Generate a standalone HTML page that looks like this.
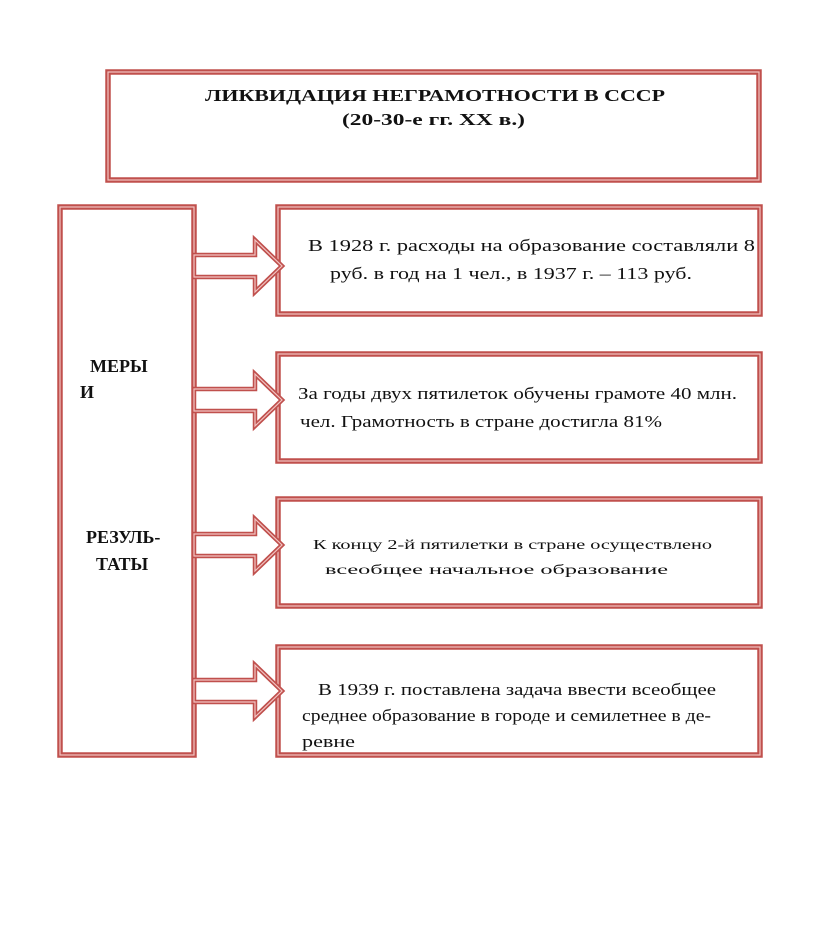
<!DOCTYPE html>
<html><head><meta charset="utf-8"><style>
body{margin:0;background:#fff;width:816px;height:927px;overflow:hidden}
svg{position:absolute;left:0;top:0}
text{font-family:"Liberation Serif",serif;fill:#111}
</style></head><body>
<svg width="816" height="927" viewBox="0 0 816 927">
<defs>
<g id="arr">
<path d="M0,-11 H61 V-26 L88,0 L61,26 V11 H0 Z" fill="#fff" stroke="#c0504d" stroke-width="4.5" stroke-linejoin="miter"/>
<path d="M0,-11 H61 V-26 L88,0 L61,26 V11 H0 Z" fill="none" stroke="#f2c4c2" stroke-width="1.2"/>
</g>
</defs>
<g fill="#fff" stroke="#c0504d" stroke-width="5.5">
<rect x="108" y="72" width="651" height="108"/>
<rect x="60" y="207" width="134" height="548"/>
<rect x="278" y="207" width="482" height="107"/>
<rect x="278" y="354" width="482" height="107"/>
<rect x="278" y="499" width="482" height="107"/>
<rect x="278" y="647" width="482" height="108"/>
</g>
<g fill="none" stroke="#f2c4c2" stroke-width="1.2">
<rect x="108" y="72" width="651" height="108"/>
<rect x="60" y="207" width="134" height="548"/>
<rect x="278" y="207" width="482" height="107"/>
<rect x="278" y="354" width="482" height="107"/>
<rect x="278" y="499" width="482" height="107"/>
<rect x="278" y="647" width="482" height="108"/>
</g>
<use href="#arr" x="194" y="266"/>
<use href="#arr" x="194" y="400"/>
<use href="#arr" x="194" y="545"/>
<use href="#arr" x="194" y="691"/>
<text x="205" y="101" font-size="17" font-weight="bold" textLength="460" lengthAdjust="spacingAndGlyphs">ЛИКВИДАЦИЯ НЕГРАМОТНОСТИ В СССР</text>
<text x="342" y="125" font-size="17" font-weight="bold" textLength="183" lengthAdjust="spacingAndGlyphs">(20-30-е гг. XX в.)</text>
<text x="90" y="372" font-size="18" font-weight="bold">МЕРЫ</text>
<text x="80" y="398" font-size="18" font-weight="bold">И</text>
<text x="86" y="543" font-size="18" font-weight="bold">РЕЗУЛЬ-</text>
<text x="96" y="570" font-size="18" font-weight="bold">ТАТЫ</text>
<g font-size="17" lengthAdjust="spacingAndGlyphs">
<text x="308" y="251" textLength="447" lengthAdjust="spacingAndGlyphs">В 1928 г. расходы на образование составляли 8</text>
<text x="330" y="279" textLength="362" lengthAdjust="spacingAndGlyphs">руб. в год на 1 чел., в 1937 г. – 113 руб.</text>
<text x="298" y="399" textLength="439" lengthAdjust="spacingAndGlyphs">За годы двух пятилеток обучены грамоте 40 млн.</text>
<text x="300" y="427" textLength="362" lengthAdjust="spacingAndGlyphs">чел. Грамотность в стране достигла 81%</text>
<text x="313" y="549" font-size="14" textLength="399" lengthAdjust="spacingAndGlyphs">К концу 2-й пятилетки в стране осуществлено</text>
<text x="325" y="574" font-size="14" textLength="343" lengthAdjust="spacingAndGlyphs">всеобщее начальное образование</text>
<text x="318" y="695" textLength="398" lengthAdjust="spacingAndGlyphs">В 1939 г. поставлена задача ввести всеобщее</text>
<text x="302" y="721" textLength="409" lengthAdjust="spacingAndGlyphs">среднее образование в городе и семилетнее в де-</text>
<text x="302" y="747" textLength="53" lengthAdjust="spacingAndGlyphs">ревне</text>
</g>
</svg>
</body></html>
